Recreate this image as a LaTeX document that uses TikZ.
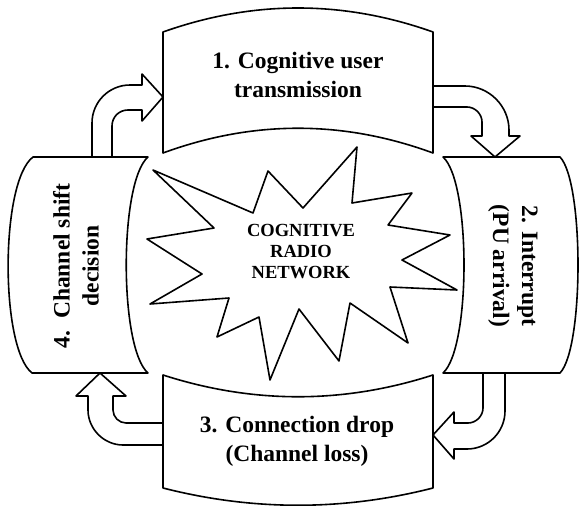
\documentclass[tikz,border=0pt]{standalone}
\usepackage{fontspec}
\setmainfont{Liberation Serif}
\usepackage{tikz}
\usetikzlibrary{positioning}

\begin{document}
\begin{tikzpicture}[x=1pt, y=-1pt, line width=1.6pt, line join=round,
  block/.style={draw, fill=white},
  bigarrow/.style={draw, fill=white},
  boxtext/.style={font=\fontsize{23.5}{29}\selectfont\bfseries, align=center},
  startext/.style={font=\fontsize{18.5}{21}\selectfont\bfseries, align=center}]

\useasboundingbox (0,0) rectangle (579,506);

% the four bent boxes
\path[block] (163,32) .. controls (253,0) and (343,0) .. (433,32) -- (433,153)
  .. controls (343,120) and (253,120) .. (163,153) -- cycle;
\path[block] (443,157) -- (560,157) .. controls (584,182) and (584,348) .. (560,373)
  -- (443,373) .. controls (471,348) and (471,182) .. (443,157) -- cycle;
\path[block] (163,375) .. controls (253,404) and (343,404) .. (433,375) -- (433,488)
  .. controls (343,511) and (253,511) .. (163,488) -- cycle;
\path[block] (33,157) -- (148,157) .. controls (119,182) and (119,348) .. (148,373)
  -- (32,373) .. controls (0,348) and (0,182) .. (33,157) -- cycle;

\node [boxtext] (transmit) at (298,75) {1. Cognitive user\\transmission};
\node [boxtext, rotate=-90] (interrupt) at (513,266) {2. Interrupt\\(PU arrival)};
\node [boxtext] (drop) at (297,441) {3. Connection drop\\(Channel loss)};
\node [boxtext, rotate=90] (shift) at (76,266) {4.\ \ Channel shift\\decision};

% block arrows between the boxes
\path[bigarrow] (92,157) -- (92,123) .. controls (92,102) and (109,85) .. (130,85)
  -- (142,85) -- (142,74) -- (163,97) -- (142,121) -- (142,110) -- (128,110)
  .. controls (119,110) and (112,117) .. (112,126) -- (112,157) -- cycle;
\path[bigarrow] (433,86) -- (465,86) .. controls (489,86) and (509,106) .. (509,130)
  -- (509,136) -- (520,136) -- (495,157) -- (471,136) -- (482,136) -- (482,122)
  .. controls (482,114) and (475,107) .. (467,107) -- (433,107) -- cycle;
\path[bigarrow] (483,373) -- (483,408) .. controls (483,416) and (476,423) .. (468,423)
  -- (454,423) -- (454,412) -- (433,435) -- (454,459) -- (454,449) -- (467,449)
  .. controls (488,449) and (505,432) .. (505,411) -- (505,373) -- cycle;
\path[bigarrow] (163,423) -- (126,423) .. controls (119,423) and (113,417) .. (113,410)
  -- (113,396) -- (126,396) -- (100,373) -- (76,396) -- (88,396) -- (88,410)
  .. controls (88,429) and (104,445) .. (123,445) -- (163,445) -- cycle;

% the star in the middle
\draw (153,170) -- (253,213) -- (268,171) -- (303,208) -- (357,147) -- (352,203)
  -- (412,193) -- (388,225) -- (450,235) -- (402,260) -- (457,290) -- (390,287)
  -- (408,343) -- (350,303) -- (339,361) -- (299,309) -- (270,380) -- (259,317)
  -- (217,337) -- (229,298) -- (150,304) -- (202,274) -- (147,239) -- (214,228)
  -- cycle;
\node [startext] (crn) at (301,252) {COGNITIVE\\RADIO\\NETWORK};

\end{tikzpicture}
\end{document}
